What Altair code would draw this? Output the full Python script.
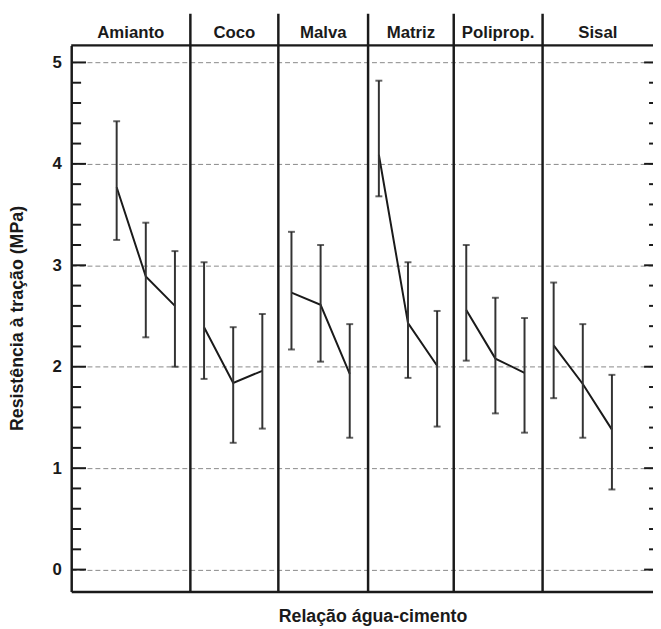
import altair as alt
import pandas as pd

# ---- data ----
groups = ["Amianto", "Coco", "Malva", "Matriz", "Poliprop.", "Sisal"]
mean_vals = [
    [3.77, 2.89, 2.60],
    [2.39, 1.84, 1.96],
    [2.73, 2.61, 1.93],
    [4.09, 2.43, 2.01],
    [2.56, 2.08, 1.94],
    [2.21, 1.83, 1.38],
]
upper_vals = [
    [4.42, 3.42, 3.14],
    [3.03, 2.39, 2.52],
    [3.33, 3.20, 2.42],
    [4.82, 3.03, 2.55],
    [3.20, 2.68, 2.48],
    [2.83, 2.42, 1.92],
]
lower_vals = [
    [3.25, 2.29, 2.00],
    [1.88, 1.25, 1.39],
    [2.17, 2.05, 1.30],
    [3.68, 1.89, 1.41],
    [2.06, 1.54, 1.35],
    [1.69, 1.30, 0.79],
]
y_ticks = [0, 1, 2, 3, 4, 5]
minor_ticks = [0.2, 0.4, 0.6, 0.8, 1.2, 1.4, 1.6, 1.8, 2.2, 2.4, 2.6, 2.8,
               3.2, 3.4, 3.6, 3.8, 4.2, 4.4, 4.6, 4.8]
divider_pos = [3.53, 6.55, 9.63, 12.57, 15.62]
x_domain = [-0.56, 19.41]
y_domain = [-0.217, 5.168]

W, H = 589, 553
FONT = "Liberation Sans"
INK = "#1a1a1a"

rows = []
for g, name in enumerate(groups):
    for k in range(3):
        rows.append({"grupo": name, "pos": g * 3 + k + 1,
                     "media": mean_vals[g][k], "sup": upper_vals[g][k],
                     "inf": lower_vals[g][k]})
df = pd.DataFrame(rows)

edges = [x_domain[0]] + divider_pos + [x_domain[1]]
label_df = pd.DataFrame({"grupo": groups,
                         "centro": [(edges[i] + edges[i + 1]) / 2 for i in range(len(groups))]})
div_df = pd.DataFrame({"pos": divider_pos})
major_df = pd.DataFrame({"v": y_ticks})
minor_df = pd.DataFrame({"v": minor_ticks})
one_df = pd.DataFrame({"a": [0]})

xs = alt.Scale(domain=x_domain, nice=False, zero=False)
ys = alt.Scale(domain=y_domain, nice=False, zero=False)

x_axis = alt.Axis(
    title="Relação água-cimento", labels=False, ticks=False, grid=False,
    domain=True, domainColor=INK, domainWidth=2.5,
    titleX=305, titleY=30, titleBaseline="alphabetic", titleAlign="center",
    titleFontSize=18, titleFontWeight="bold", titleFont=FONT, titleColor=INK)
y_axis = alt.Axis(
    title="Resistência à tração (MPa)", values=y_ticks, grid=True,
    gridDash=[5, 3], gridColor="#888888", gridWidth=1,
    ticks=False, tickSize=0, labelPadding=10, labelFontSize=17,
    labelFontWeight="bold", labelFont=FONT, labelColor=INK,
    domain=True, domainColor=INK, domainWidth=2.5,
    titleX=-54, titleY=276, titleAngle=270, titleBaseline="middle",
    titleAlign="center", titleFontSize=18, titleFontWeight="bold",
    titleFont=FONT, titleColor=INK)


def X(field):
    return alt.X(field, scale=xs, axis=x_axis)


def Y(field):
    return alt.Y(field, scale=ys, axis=y_axis)


line = alt.Chart(df).mark_line(color=INK, strokeWidth=2).encode(
    x=X("pos:Q"), y=Y("media:Q"), detail="grupo:N",
)
err = alt.Chart(df).mark_rule(color="#333333", strokeWidth=2).encode(
    x=X("pos:Q"), y=Y("inf:Q"), y2="sup:Q",
)
cap_top = alt.Chart(df).mark_tick(color="#222222", orient="horizontal", size=7, thickness=2).encode(
    x=X("pos:Q"), y=Y("sup:Q"),
)
cap_bot = alt.Chart(df).mark_tick(color="#222222", orient="horizontal", size=7, thickness=2).encode(
    x=X("pos:Q"), y=Y("inf:Q"),
)

dividers = alt.Chart(div_df).mark_rule(color=INK, strokeWidth=2.5).encode(
    x=X("pos:Q"), y=alt.value(-32), y2=alt.value(H),
)
top_border = alt.Chart(one_df).mark_rule(color=INK, strokeWidth=2.5).encode(
    x=alt.value(0), x2=alt.value(W), y=alt.value(0),
)

left_major = alt.Chart(major_df).mark_rule(color=INK, strokeWidth=2).encode(
    y=Y("v:Q"), x=alt.value(0), x2=alt.value(15))
left_minor = alt.Chart(minor_df).mark_rule(color=INK, strokeWidth=2).encode(
    y=Y("v:Q"), x=alt.value(0), x2=alt.value(10))
right_major = alt.Chart(major_df).mark_rule(color=INK, strokeWidth=2).encode(
    y=Y("v:Q"), x=alt.value(W - 9), x2=alt.value(W))
right_minor = alt.Chart(minor_df).mark_rule(color=INK, strokeWidth=2).encode(
    y=Y("v:Q"), x=alt.value(W - 4), x2=alt.value(W))

labels = alt.Chart(label_df).mark_text(
    font=FONT, fontSize=17, fontWeight="bold", color=INK,
    baseline="alphabetic", align="center"
).encode(
    x=X("centro:Q"), y=alt.value(-7), text="grupo:N",
)

chart = alt.layer(
    line, err, cap_top, cap_bot, dividers, top_border,
    left_major, left_minor, right_major, right_minor, labels
).properties(
    width=W, height=H,
    autosize=alt.AutoSizeParams(type="none"),
    padding={"left": 64, "top": 34, "right": 0, "bottom": 34},
).configure_view(stroke=None).configure(font=FONT)

chart.save("out.html", embed_options={"renderer": "svg", "actions": False})
